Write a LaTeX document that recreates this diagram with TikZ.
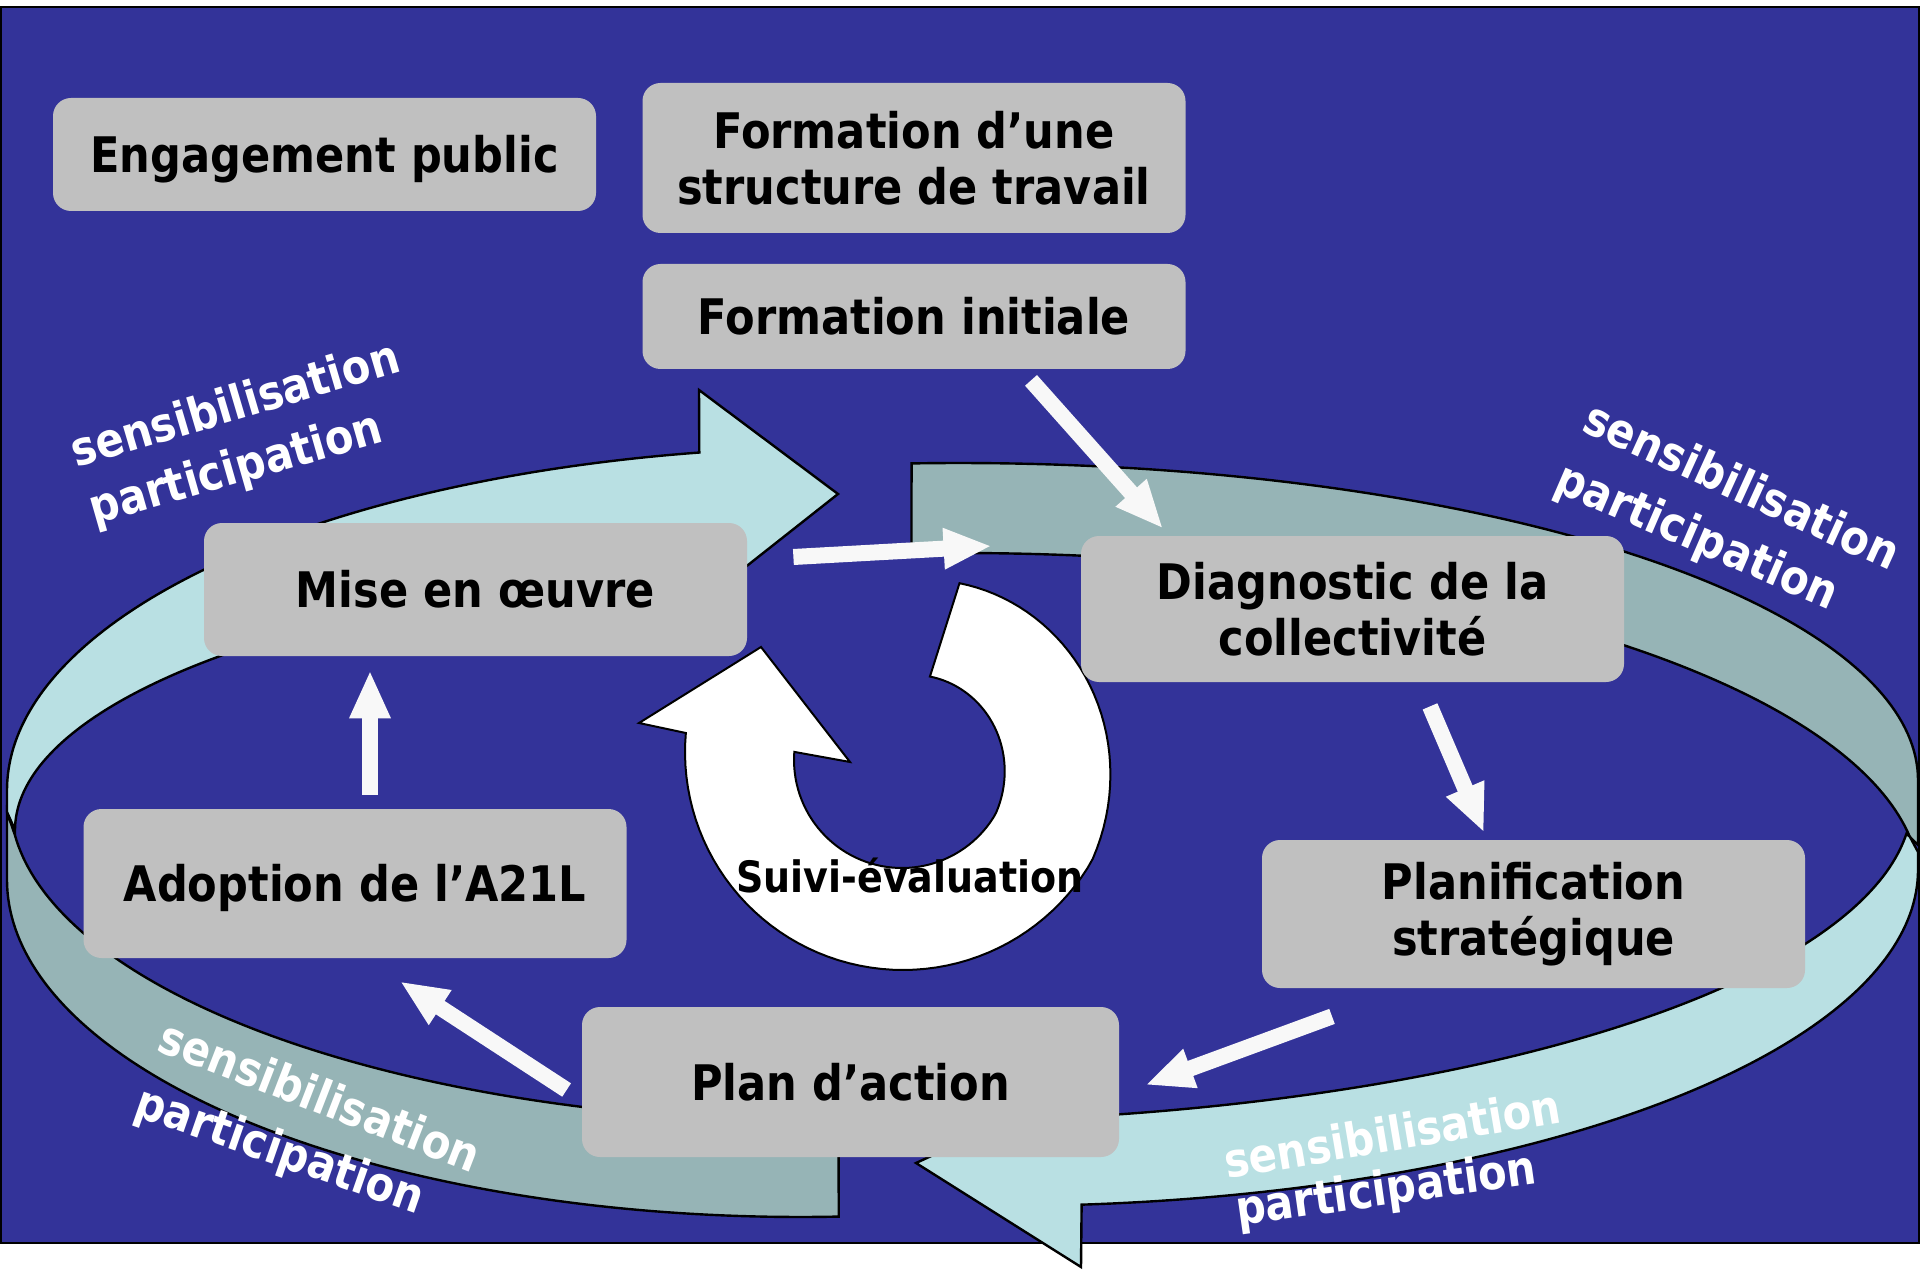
\documentclass[tikz,border=0pt]{standalone}
\usepackage{fontspec}
\setmainfont[FakeStretch=0.88]{DejaVu Sans}
\usetikzlibrary{arrows.meta}
\usetikzlibrary{calc}
\definecolor{bgblue}{RGB}{51,51,153}
\definecolor{boxgray}{RGB}{192,192,192}
\definecolor{ribbonlight}{RGB}{185,224,227}
\definecolor{ribbondark}{RGB}{150,180,182}
\definecolor{arrowwhite}{RGB}{248,248,248}
\newcommand{\blocfont}{\fontsize{24.5}{28}\selectfont\bfseries}
\newcommand{\sensfont}{\fontsize{23.7}{28}\selectfont\bfseries}
\newcommand{\suivifont}{\fontsize{21.6}{26}\selectfont\bfseries}
\tikzset{
    box/.style = {rectangle, rounded corners=9pt, fill=boxgray, minimum width=271.5pt, align=center, font=\blocfont},
    oneline/.style = {text height=21pt, text depth=3pt},
    frontband/.style = {fill=ribbonlight, draw=black, line width=1.2pt},
    backband/.style = {fill=ribbondark, draw=black, line width=1.2pt},
    loopband/.style = {fill=white, draw=black, line width=1pt},
    flow/.style = {-{Triangle[length=24pt,width=19pt]}, line width=8pt, draw=arrowwhite},
    wave/.style = {text=white, inner sep=0pt, anchor=base west, font=\sensfont}
}

\begin{document}
\begin{tikzpicture}[x=0.5pt, y=-0.5pt, samples=90]
  \useasboundingbox (0,0) rectangle (1920,1272);
  \fill[white] (0,0) rectangle (1920,1272);
  \filldraw[fill=bgblue, draw=black, line width=1.2pt] (1,7) rectangle (1919,1243);

  % ribbon, left half
  \filldraw[backband] (7,812) -- plot[domain=180:87.2] ({800+793*cos(\x)},{880+337*sin(\x)})
    -- plot[domain=89.4:173.7] ({830+820*cos(\x)},{800+322*sin(\x)}) -- cycle;
  \filldraw[frontband] plot[domain=259.7:180] ({850+843*cos(\x)},{790+343*sin(\x)})
    -- (7,812) -- (15,830)
    -- plot[domain=180:262.8] ({850+835*cos(\x)},{830+265*sin(\x)})
    -- (838,494) -- (699,390) -- cycle;

  % ribbon, right half
  \filldraw[backband] plot[domain=267.1:360] ({960+958*cos(\x)},{780+317*sin(\x)})
    -- (1918,845) -- (1910,837)
    -- plot[domain=351.7:267.1] ({960+960*cos(\x)},{885+332*sin(\x)}) -- cycle;
  \filldraw[frontband] (1910,837) -- (1918,852)
    -- plot[domain=0:84.9] ({1000+918*cos(\x)},{870+336*sin(\x)})
    -- (1081,1267) -- (916,1163)
    -- plot[domain=83.8:6] ({900+1012*cos(\x)},{800+322*sin(\x)}) -- cycle;

  % suivi loop
  \filldraw[loopband] plot[domain=-71.5:185] ({903+(218-40*max(0,(30-\x)/101.5))*cos(\x)},{752+(218-40*max(0,(30-\x)/101.5))*sin(\x)})
    -- (639,723) -- (761,647) -- (850,762)
    -- plot[domain=184.3:-71.5] ({902+(108-20*max(0,(30-\x)/101.5))*cos(\x)},{760+(108-20*max(0,(30-\x)/101.5))*sin(\x)})
    -- cycle;
  \node[font=\suivifont, anchor=base, inner sep=0pt] (suivi) at (910,892) {Suivi-évaluation};

  \node[box, oneline, minimum height=56.5pt] (engage) at (324.5,154.5) {Engagement public};
  \node[box, minimum height=75pt] (structure) at (914,158) {Formation d’une\\structure de travail};
  \node[box, oneline, minimum height=52.5pt] (initiale) at (914,316.5) {Formation initiale};
  \node[box, oneline, minimum height=66.5pt] (mise) at (475.5,589.5) {Mise en œuvre};
  \node[box, minimum height=73pt] (diag) at (1352.5,609) {Diagnostic de la\\collectivité};
  \node[box, oneline, minimum height=74.5pt] (adopt) at (355,883.5) {Adoption de l’A21L};
  \node[box, minimum height=74pt] (strat) at (1533.5,914) {Planification\\stratégique};
  \node[box, oneline, minimum height=75pt, minimum width=268.5pt] (action) at (850.5,1082) {Plan d’action};

  \draw[flow] ($(initiale.south)+(117,11)$) -- ($(diag.north)+(-189.5,-7)$);
  \draw[flow] ($(mise.east)+(46,-32.5)$) -- ($(diag.west)+(-89,-63)$);
  \draw[flow] ($(diag.south)+(77.5,24)$) -- ($(strat.north)+(-49.5,-7)$);
  \draw[flow] ($(strat.south)+(-201.5,28)$) -- ($(action.east)+(26,3)$);
  \draw[flow] ($(action.west)+(-15,8)$) -- ($(adopt.south)+(45,23)$);
  \draw[flow] ($(adopt.north)+(15,-14)$) -- ($(mise.south)+(-105.5,14)$);

  \node[wave, rotate=16.5] (senstl) at (76,468) {sensibilisation};
  \node[wave, rotate=16] (parttl) at (94,525) {participation};
  \node[wave, rotate=-24.5] (senstr) at (1580,430) {sensibilisation};
  \node[wave, rotate=-23.4] (parttr) at (1552,490) {participation};
  \node[wave, rotate=-21.2] (sensbl) at (155,1050) {sensibilisation};
  \node[wave, rotate=-19.2] (partbl) at (132,1115) {participation};
  \node[wave, rotate=9.6] (sensbr) at (1227,1179) {sensibilisation};
  \node[wave, rotate=8] (partbr) at (1238,1226) {participation};
\end{tikzpicture}
\end{document}
